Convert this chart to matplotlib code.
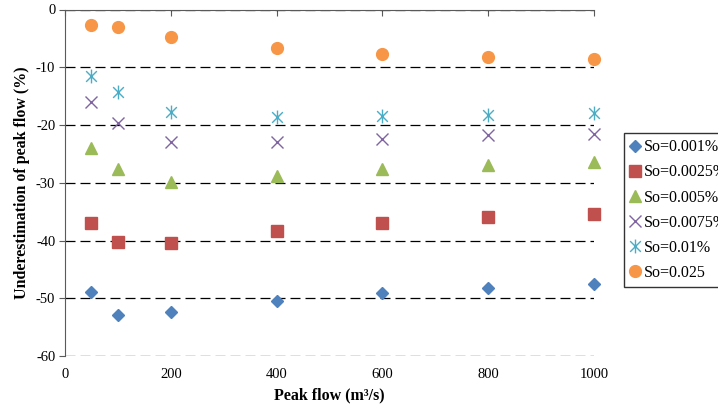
import matplotlib.pyplot as plt
from matplotlib.path import Path

plt.rcParams['font.family'] = ['Liberation Serif', 'DejaVu Serif']

# peak flow values (m3/s)
peak_flow = [50, 100, 200, 400, 600, 800, 1000]

# underestimation of peak flow (%) per bed slope
so_0001 = [-48.9, -52.9, -52.4, -50.5, -49.1, -48.3, -47.6]
so_00025 = [-36.9, -40.3, -40.4, -38.4, -37.0, -36.0, -35.4]
so_0005 = [-23.9, -27.7, -29.8, -28.8, -27.6, -26.9, -26.4]
so_00075 = [-16.1, -19.6, -23.0, -23.0, -22.4, -21.8, -21.5]
so_001 = [-11.6, -14.2, -17.8, -18.7, -18.5, -18.3, -18.0]
so_0025 = [-2.7, -3.1, -4.7, -6.6, -7.7, -8.3, -8.6]

labels = ['So=0.001%', 'So=0.0025%', 'So=0.005%', 'So=0.0075%', 'So=0.01%', 'So=0.025']
series = [so_0001, so_00025, so_0005, so_00075, so_001, so_0025]

xticks = [0, 200, 400, 600, 800, 1000]
yticks = [0, -10, -20, -30, -40, -50, -60]

# excel-like star marker: an x with a vertical bar through it
star = Path([(-1, -1), (1, 1), (-1, 1), (1, -1), (0, -1.3), (0, 1.3)],
            [Path.MOVETO, Path.LINETO, Path.MOVETO, Path.LINETO, Path.MOVETO, Path.LINETO])

styles = [
    dict(marker='D', color='#4F81BD', ms=6.5),
    dict(marker='s', color='#C0504D', ms=8.5),
    dict(marker='^', color='#9BBB59', ms=9),
    dict(marker='x', color='#8064A2', ms=8, mew=1.0),
    dict(marker=star, color='#4BACC6', ms=10, mew=1.0, mfc='none'),
    dict(marker='o', color='#F79646', ms=8.5),
]

fig = plt.figure(figsize=(7.18, 4.09), dpi=100)
ax = fig.add_axes([65/718, 1-356/409, (594-65)/718, (356-9.5)/409])

for y, lab, st in zip(series, labels, styles):
    ax.plot(peak_flow, y, linestyle='none', label=lab, clip_on=False, **st)

ax.set_xlim(0, 1000)
ax.set_ylim(-60, 0)
ax.set_xticks(xticks)
ax.set_yticks(yticks)
ax.set_xticklabels([str(v) for v in xticks])
ax.set_yticklabels([str(v) for v in yticks])

for side in ['bottom', 'right']:
    ax.spines[side].set_visible(False)
ax.spines['top'].set_color('#5a5a5a')
ax.spines['left'].set_color('#5a5a5a')

ax.tick_params(axis='x', bottom=False, top=True, labelbottom=True, labeltop=False,
               direction='in', length=4, color='#5a5a5a', labelsize=10.5, pad=9)
ax.tick_params(axis='y', direction='out', length=4, color='#5a5a5a', labelsize=10.5, pad=3)

ax.yaxis.grid(True, linestyle=(0, (8, 4)), color='black', linewidth=0.9)
ax.set_axisbelow(True)

ax.set_xlabel('Peak flow (m\u00b3/s)', fontweight='bold', fontsize=11.5, labelpad=4)
ax.set_ylabel('Underestimation of peak flow (%)', fontweight='bold', fontsize=11.5, labelpad=4)

# legend sits outside the axes and runs past the right edge, as in the original
leg = fig.legend(loc='upper left', bbox_to_anchor=(624/718, 1-133/409), frameon=True,
                 fancybox=False, edgecolor='black', fontsize=11.5, handlelength=0.6,
                 handletextpad=0.25, borderpad=0.4, labelspacing=0.57, borderaxespad=0)
leg.get_frame().set_linewidth(1.0)

fig.savefig('out.png', dpi=100)
